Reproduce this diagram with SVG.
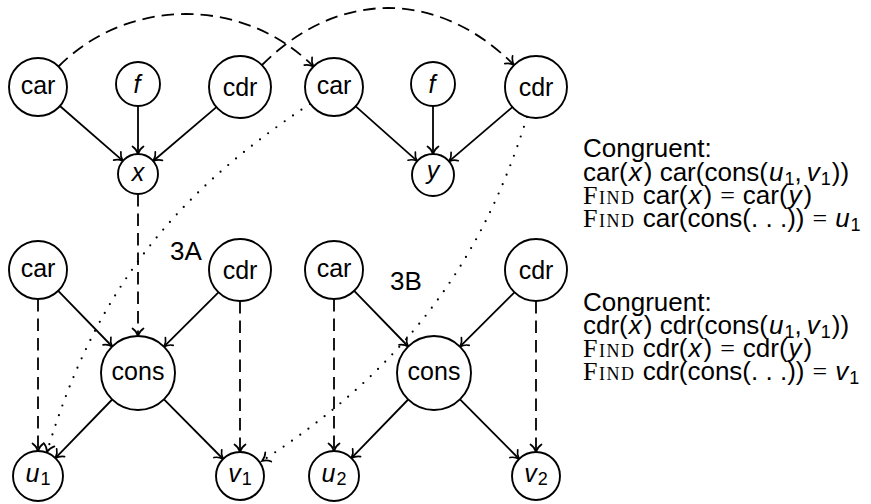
<svg xmlns="http://www.w3.org/2000/svg" width="871" height="504" viewBox="0 0 871 504">
  <defs>
    <!-- curved "to"-style arrow tip, drawn solid whatever the line pattern -->
    <marker id="tip" viewBox="-9 -7 11 14" markerWidth="11" markerHeight="14" refX="0" refY="0" orient="auto" markerUnits="userSpaceOnUse">
      <path d="M-7.5,-5.5 C-5.5,-2.4 -2.2,-0.7 0,0 C-2.2,0.7 -5.5,2.4 -7.5,5.5" fill="none" stroke="#000" stroke-width="1.7" stroke-linecap="round"/>
    </marker>
    <style>
      .n circle { fill: #fff; stroke: #000; stroke-width: 1.9; }
      .lbl { font-family: "Liberation Sans", Arial, sans-serif; font-size: 25px; text-anchor: middle; fill: #000; }
      .it { font-style: italic; }
      .sub { font-size: 18px; }
      .e { fill: none; stroke: #000; stroke-width: 1.8; marker-end: url(#tip); }
      .dash { stroke-dasharray: 12.5 7; }
      .dot { stroke-dasharray: 0 10.2; stroke-linecap: round; stroke-width: 2.2; }
      .tx { font-family: "Liberation Sans", Arial, sans-serif; font-size: 26px; fill: #000; }
      .sc { font-family: "Liberation Serif", "Times New Roman", serif; font-variant: small-caps; letter-spacing: 1.5px; }
      .rm { font-family: "Liberation Serif", "Times New Roman", serif; }
    </style>
  </defs>

  <!-- connectors -->
  <g id="connectors">
    <!-- top left: car, f, cdr into x -->
    <line class="e" x1="59.9" y1="106" x2="122.9" y2="160.9"/>
    <line class="e" x1="138" y1="106" x2="138" y2="154"/>
    <line class="e" x1="216.4" y1="107.1" x2="153.2" y2="161"/>
    <!-- top right: car, f, cdr into y -->
    <line class="e" x1="355.7" y1="106.3" x2="417.3" y2="161.1"/>
    <line class="e" x1="433" y1="106" x2="433" y2="154"/>
    <line class="e" x1="512.4" y1="107.1" x2="449" y2="161.4"/>
    <!-- dashed arcs across the top -->
    <path class="e dash" d="M58.5,66.5 C128.5,-3.5 243.5,-3.5 313.5,66.5"/>
    <path class="e dash" d="M262,65 C338,-11 438,-11 514,65"/>
    <!-- x down to cons -->
    <line class="e dash" x1="138" y1="194" x2="138" y2="336"/>
    <!-- bottom left -->
    <line class="e" x1="58.2" y1="290.8" x2="112.2" y2="346.5"/>
    <line class="e" x1="218.2" y1="292.6" x2="164" y2="346.7"/>
    <line class="e" x1="112.2" y1="399.5" x2="55.4" y2="458.1"/>
    <line class="e" x1="164" y1="399.3" x2="223.1" y2="459"/>
    <line class="e dash" x1="38" y1="299" x2="38" y2="451"/>
    <line class="e dash" x1="240" y1="301" x2="240" y2="452"/>
    <!-- bottom right -->
    <line class="e" x1="354.2" y1="290.8" x2="408.2" y2="346.5"/>
    <line class="e" x1="514.2" y1="292.6" x2="460" y2="346.7"/>
    <line class="e" x1="408.2" y1="399.5" x2="351.4" y2="458.1"/>
    <line class="e" x1="460" y1="399.3" x2="519.1" y2="459"/>
    <line class="e dash" x1="334" y1="299" x2="334" y2="451"/>
    <line class="e dash" x1="536" y1="301" x2="536" y2="452"/>
    <!-- dotted curves from the right-hand car/cdr down to u1/v1 -->
    <path class="e dot" d="M310,104 C172,195 94,294 47,452"/>
    <path class="e dot" d="M527,117 C480,270 396,374 262,461"/>
  </g>

  <!-- top left group -->
  <g id="car-a" class="n"><circle cx="38" cy="87" r="29"/><text class="lbl" x="38" y="93.5">car</text></g>
  <g id="f-a" class="n"><circle cx="138" cy="84" r="22"/><text class="lbl it" x="137" y="92.5">f</text></g>
  <g id="cdr-a" class="n"><circle cx="240" cy="87" r="31"/><text class="lbl" x="240" y="95.5">cdr</text></g>
  <g id="x" class="n"><circle cx="138" cy="174" r="20"/><text class="lbl it" x="138" y="180.5">x</text></g>

  <!-- top right group -->
  <g id="car-b" class="n"><circle cx="334" cy="87" r="29"/><text class="lbl" x="334" y="93.5">car</text></g>
  <g id="f-b" class="n"><circle cx="433" cy="84" r="22"/><text class="lbl it" x="432" y="92.5">f</text></g>
  <g id="cdr-b" class="n"><circle cx="536" cy="87" r="31"/><text class="lbl" x="536" y="95.5">cdr</text></g>
  <g id="y" class="n"><circle cx="433" cy="175" r="21"/><text class="lbl it" x="433" y="178.5">y</text></g>

  <!-- bottom left group (3A) -->
  <g id="car-c" class="n"><circle cx="38" cy="270" r="29"/><text class="lbl" x="38" y="276.5">car</text></g>
  <g id="cdr-c" class="n"><circle cx="240" cy="270" r="31"/><text class="lbl" x="240" y="278.5">cdr</text></g>
  <g id="cons-a" class="n"><circle cx="138" cy="373" r="37"/><text class="lbl" x="138" y="379.5">cons</text></g>
  <g id="u1" class="n"><circle cx="38" cy="476" r="25"/><text class="lbl" x="38" y="482"><tspan class="it">u</tspan><tspan class="sub" dx="1" dy="3">1</tspan></text></g>
  <g id="v1" class="n"><circle cx="240" cy="476" r="24"/><text class="lbl" x="240" y="482"><tspan class="it">v</tspan><tspan class="sub" dx="1" dy="3">1</tspan></text></g>

  <!-- bottom right group (3B) -->
  <g id="car-d" class="n"><circle cx="334" cy="270" r="29"/><text class="lbl" x="334" y="276.5">car</text></g>
  <g id="cdr-d" class="n"><circle cx="536" cy="270" r="31"/><text class="lbl" x="536" y="278.5">cdr</text></g>
  <g id="cons-b" class="n"><circle cx="434" cy="373" r="37"/><text class="lbl" x="434" y="379.5">cons</text></g>
  <g id="u2" class="n"><circle cx="334" cy="476" r="25"/><text class="lbl" x="334" y="482"><tspan class="it">u</tspan><tspan class="sub" dx="1" dy="3">2</tspan></text></g>
  <g id="v2" class="n"><circle cx="536" cy="476" r="24"/><text class="lbl" x="536" y="482"><tspan class="it">v</tspan><tspan class="sub" dx="1" dy="3">2</tspan></text></g>

  <!-- case labels -->
  <text class="tx" x="170" y="260">3A</text>
  <text class="tx" x="390" y="290">3B</text>

  <!-- congruence notes -->
  <g id="notes-car">
    <text class="tx" x="583" y="157">Congruent:</text>
    <text class="tx" x="583" y="181">car(<tspan class="it" dx="1">x</tspan><tspan dx="2">) car(cons(</tspan><tspan class="it" dx="1">u</tspan><tspan class="sub" dx="1" dy="4">1</tspan><tspan dy="-4">,</tspan><tspan class="it" dx="5">v</tspan><tspan class="sub" dx="1" dy="4">1</tspan><tspan dx="1" dy="-4">))</tspan></text>
    <text class="tx" x="583" y="204"><tspan class="sc">Find</tspan> car(<tspan class="it" dx="1">x</tspan><tspan dx="2">)</tspan><tspan class="rm" dx="8">=</tspan><tspan dx="8">car(</tspan><tspan class="it" dx="1">y</tspan><tspan dx="2">)</tspan></text>
    <text class="tx" x="583" y="227"><tspan class="sc">Find</tspan> car(cons(. . .))<tspan class="rm" dx="8">=</tspan><tspan class="it" dx="8">u</tspan><tspan class="sub" dx="1" dy="4">1</tspan></text>
  </g>
  <g id="notes-cdr">
    <text class="tx" x="583" y="311">Congruent:</text>
    <text class="tx" x="583" y="334">cdr(<tspan class="it" dx="1">x</tspan><tspan dx="2">) cdr(cons(</tspan><tspan class="it" dx="1">u</tspan><tspan class="sub" dx="1" dy="4">1</tspan><tspan dy="-4">,</tspan><tspan class="it" dx="5">v</tspan><tspan class="sub" dx="1" dy="4">1</tspan><tspan dx="1" dy="-4">))</tspan></text>
    <text class="tx" x="583" y="357"><tspan class="sc">Find</tspan> cdr(<tspan class="it" dx="1">x</tspan><tspan dx="2">)</tspan><tspan class="rm" dx="8">=</tspan><tspan dx="8">cdr(</tspan><tspan class="it" dx="1">y</tspan><tspan dx="2">)</tspan></text>
    <text class="tx" x="583" y="380"><tspan class="sc">Find</tspan> cdr(cons(. . .))<tspan class="rm" dx="8">=</tspan><tspan class="it" dx="8">v</tspan><tspan class="sub" dx="1" dy="4">1</tspan></text>
  </g>
</svg>
